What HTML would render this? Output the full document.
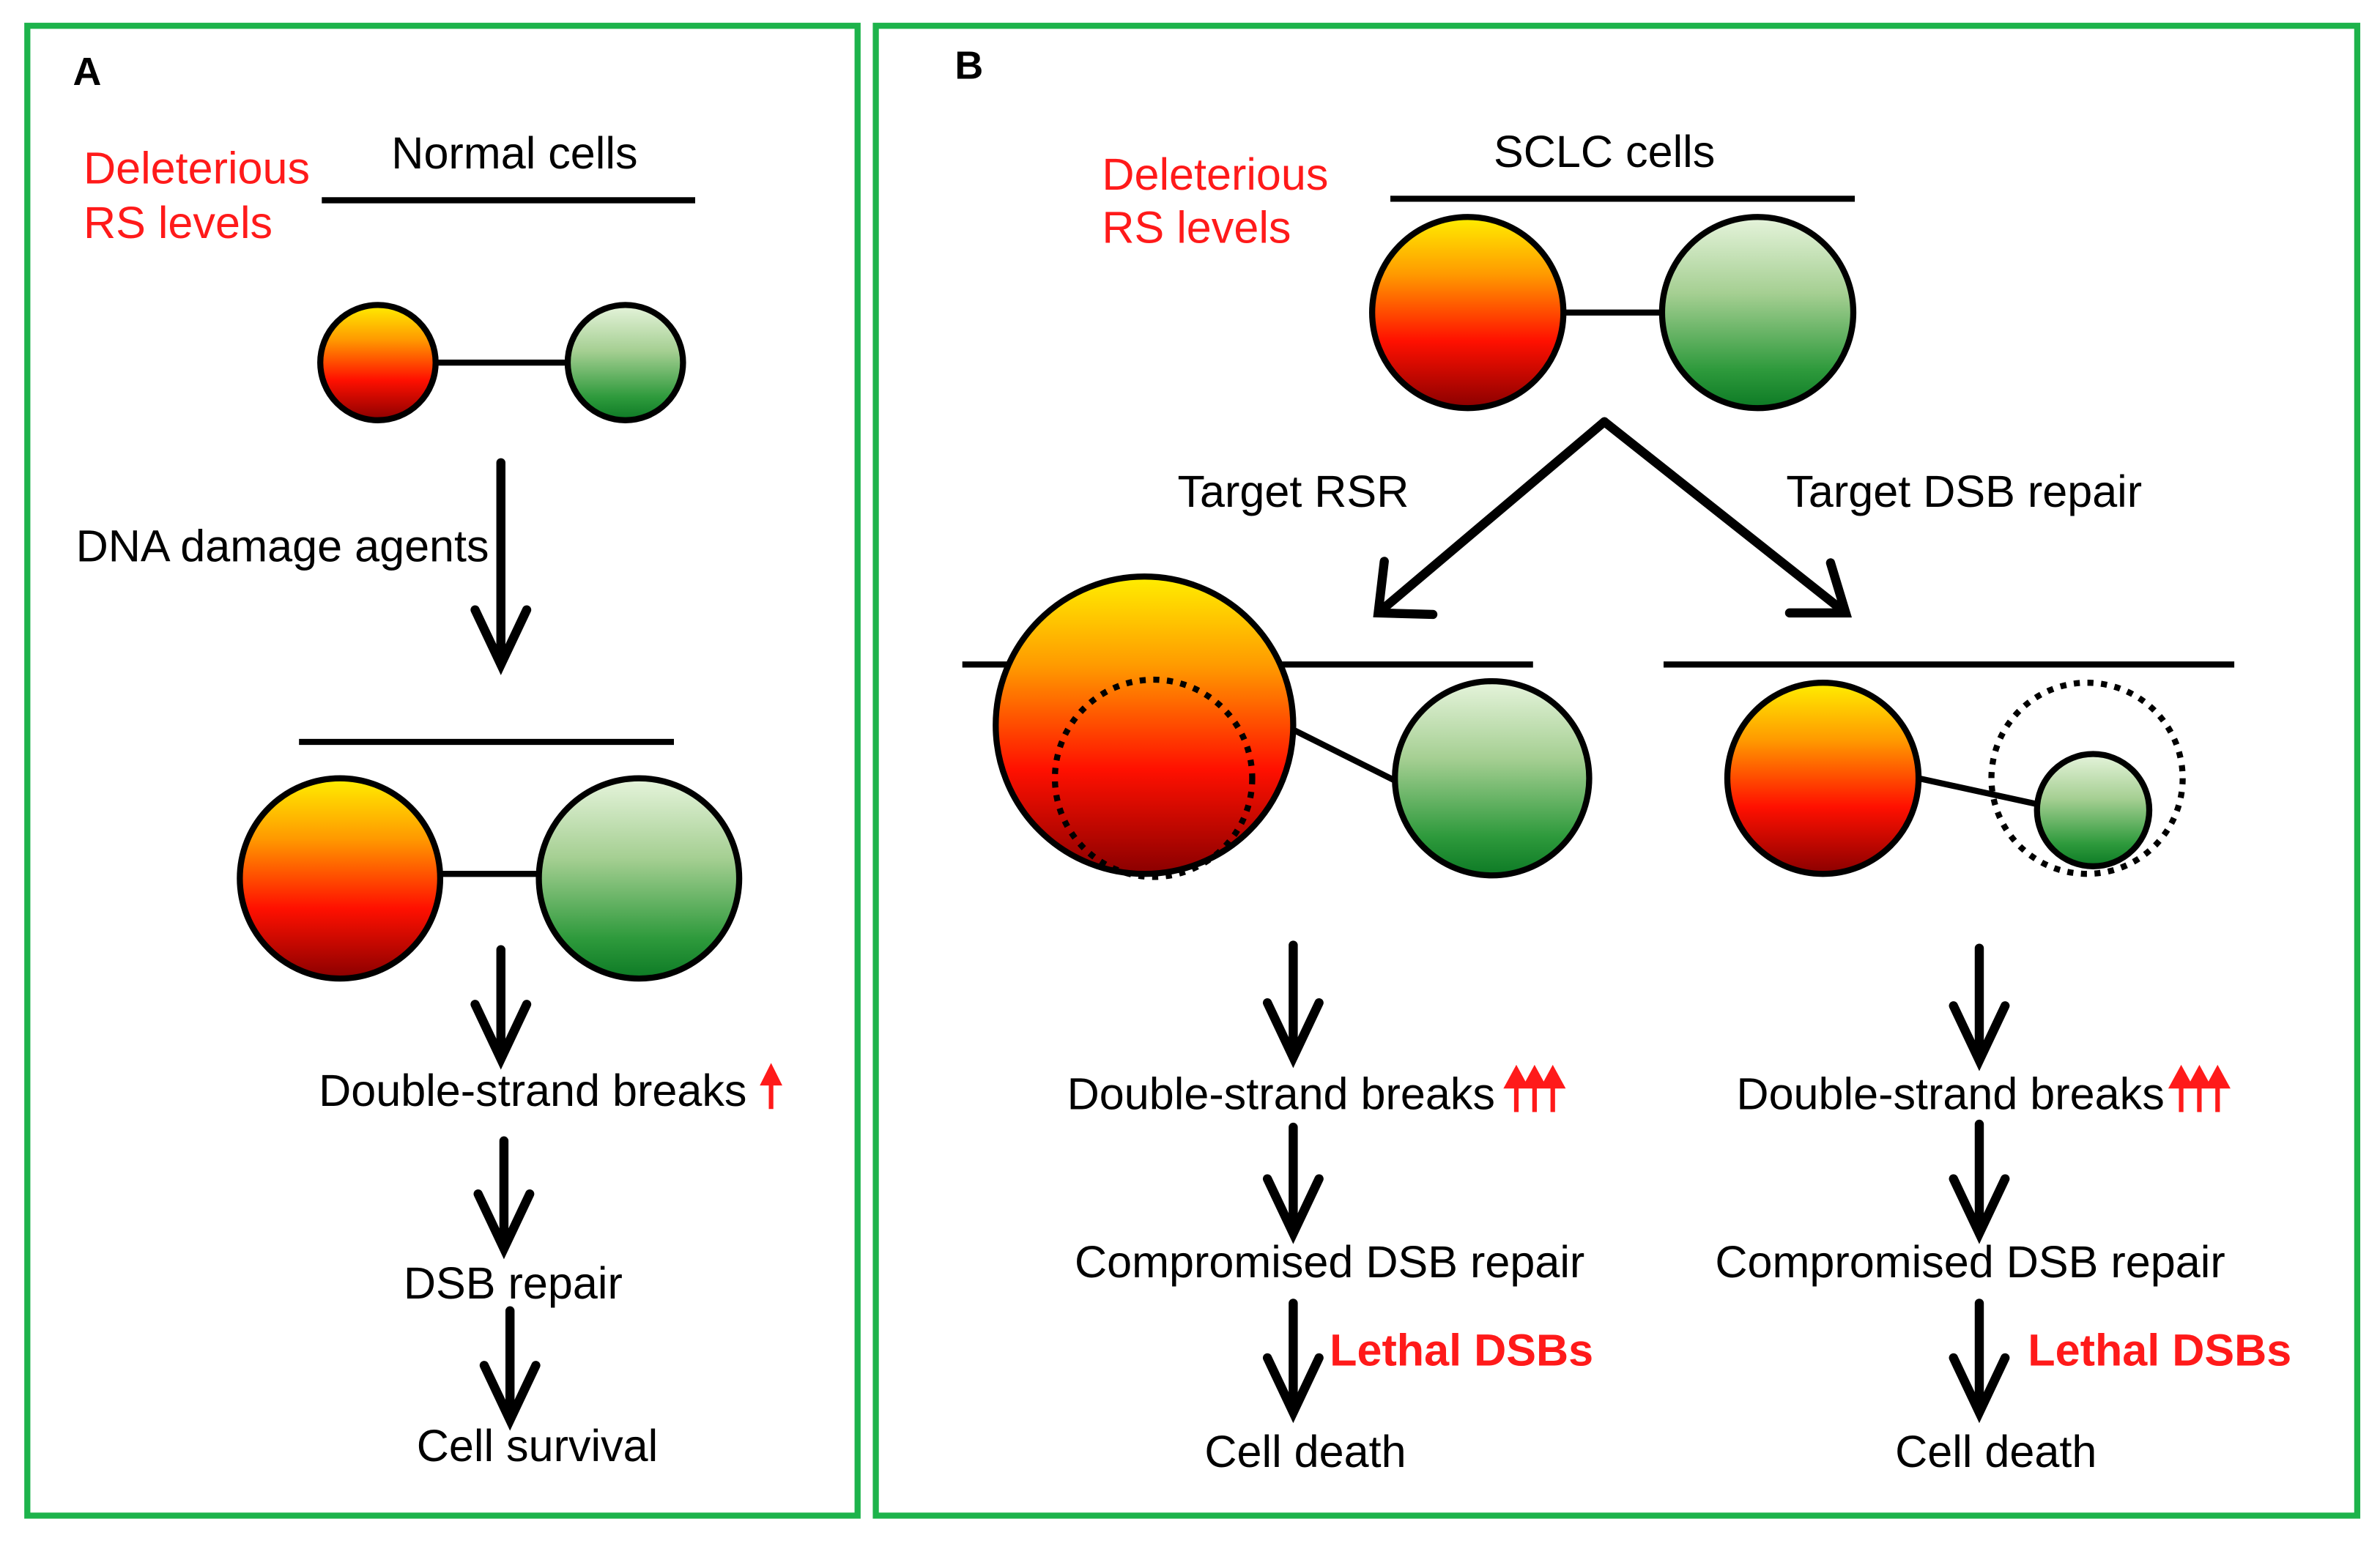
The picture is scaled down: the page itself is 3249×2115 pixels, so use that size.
<!DOCTYPE html>
<html><head><meta charset="utf-8"><style>
html,body{margin:0;padding:0;background:#fff}
svg{display:block}
text{font-family:"Liberation Sans",Arial,sans-serif;font-size:29.5px;fill:#000}
.r{fill:#ff1a1a}
</style></head><body>
<svg width="3249" height="2115" viewBox="0 0 1568 1021" preserveAspectRatio="none" xmlns="http://www.w3.org/2000/svg">
<defs>
<linearGradient id="o" x1="0" y1="0" x2="0" y2="1">
<stop offset="0" stop-color="#ffee00"/><stop offset="0.3" stop-color="#ff9a00"/><stop offset="0.65" stop-color="#ff1000"/><stop offset="1" stop-color="#8a0000"/>
</linearGradient>
<linearGradient id="g" x1="0" y1="0" x2="0" y2="1">
<stop offset="0" stop-color="#e6f4dc"/><stop offset="0.4" stop-color="#a5cf92"/><stop offset="0.8" stop-color="#2e9a3c"/><stop offset="1" stop-color="#0d7a25"/>
</linearGradient>
</defs>
<g fill="none" stroke="#1db34b" stroke-width="4">
<rect x="18" y="17" width="547" height="982"/>
<rect x="577" y="17" width="976" height="982"/>
</g>
<text x="48" y="56" style="font-weight:bold;font-size:26px">A</text>
<text x="629" y="52" style="font-weight:bold;font-size:26px">B</text>

<g stroke="#000" stroke-width="4" fill="none">
<line x1="212" y1="132" x2="458" y2="132"/>
<line x1="287" y1="239" x2="374" y2="239"/>
<line x1="197" y1="489" x2="444" y2="489"/>
<line x1="290" y1="576" x2="355" y2="576"/>
<line x1="916" y1="131" x2="1222" y2="131"/>
<line x1="1030" y1="206" x2="1095" y2="206"/>
<line x1="634" y1="438" x2="1010" y2="438"/>
<line x1="850" y1="480" x2="920" y2="515"/>
<line x1="1096" y1="438" x2="1472" y2="438"/>
<line x1="1264" y1="513" x2="1342" y2="530"/>
</g>

<g stroke="#000" stroke-width="4">
<circle cx="249" cy="239" r="38" fill="url(#o)"/>
<circle cx="412" cy="239" r="38" fill="url(#g)"/>
<circle cx="224" cy="579" r="66" fill="url(#o)"/>
<circle cx="421" cy="579" r="66" fill="url(#g)"/>
<circle cx="967" cy="206" r="63" fill="url(#o)"/>
<circle cx="1158" cy="206" r="63" fill="url(#g)"/>
<circle cx="754" cy="478" r="98" fill="url(#o)"/>
<circle cx="983" cy="513" r="64" fill="url(#g)"/>
<circle cx="1201" cy="513" r="63" fill="url(#o)"/>
<circle cx="1379" cy="534" r="37" fill="url(#g)"/>
</g>
<g fill="none" stroke="#000" stroke-width="4" stroke-dasharray="4 5">
<circle cx="760" cy="513" r="65"/>
<circle cx="1375" cy="513" r="63"/>
</g>

<g stroke="#000" stroke-width="6" fill="none" stroke-linecap="round">
<path d="M330 305V438 M313 402L330 438L347 402"/>
<path d="M330 626V698 M313 662L330 698L347 662"/>
<path d="M332 752V823 M315 787L332 823L349 787"/>
<path d="M336 864V936 M319 900L336 936L353 900"/>
<path d="M1057 278L908 404 M912 370L908 404L944 405"/>
<path d="M1057 278L1216 404 M1179 404L1216 404L1206 371"/>
<path d="M852 623V697 M835 661L852 697L869 661"/>
<path d="M852 743V813 M835 777L852 813L869 777"/>
<path d="M852 859V931 M835 895L852 931L869 895"/>
<path d="M1304 625V699 M1287 663L1304 699L1321 663"/>
<path d="M1304 741V813 M1287 777L1304 813L1321 777"/>
<path d="M1304 859V931 M1287 895L1304 931L1321 895"/>
</g>

<g fill="#ff1a1a" stroke="#ff1a1a" stroke-width="3">
<path d="M508 731V712" /><path d="M503 714L508 704L513 714Z"/>
<path d="M999 733V713 M1011 733V713 M1023 733V713"/>
<path d="M993 716L999 705L1005 716Z M1005 716L1011 705L1017 716Z M1017 716L1023 705L1029 716Z"/>
<path d="M1437 733V713 M1449 733V713 M1461 733V713"/>
<path d="M1431 716L1437 705L1443 716Z M1443 716L1449 705L1455 716Z M1455 716L1461 705L1467 716Z"/>
</g>

<text x="55" y="121" class="r">Deleterious</text>
<text x="55" y="157" class="r">RS levels</text>
<text x="339" y="111" text-anchor="middle">Normal cells</text>
<text x="50" y="370">DNA damage agents</text>
<text x="210" y="729">Double-strand breaks</text>
<text x="338" y="856" text-anchor="middle">DSB repair</text>
<text x="354" y="963" text-anchor="middle">Cell survival</text>

<text x="726" y="125" class="r">Deleterious</text>
<text x="726" y="160" class="r">RS levels</text>
<text x="1057" y="110" text-anchor="middle">SCLC cells</text>
<text x="852" y="334" text-anchor="middle">Target RSR</text>
<text x="1294" y="334" text-anchor="middle">Target DSB repair</text>
<text x="703" y="731">Double-strand breaks</text>
<text x="1144" y="731">Double-strand breaks</text>
<text x="876" y="842" text-anchor="middle">Compromised DSB repair</text>
<text x="1298" y="842" text-anchor="middle">Compromised DSB repair</text>
<text x="876" y="900" class="r" style="font-weight:bold">Lethal DSBs</text>
<text x="1336" y="900" class="r" style="font-weight:bold">Lethal DSBs</text>
<text x="860" y="967" text-anchor="middle">Cell death</text>
<text x="1315" y="967" text-anchor="middle">Cell death</text>
</svg>
</body></html>
